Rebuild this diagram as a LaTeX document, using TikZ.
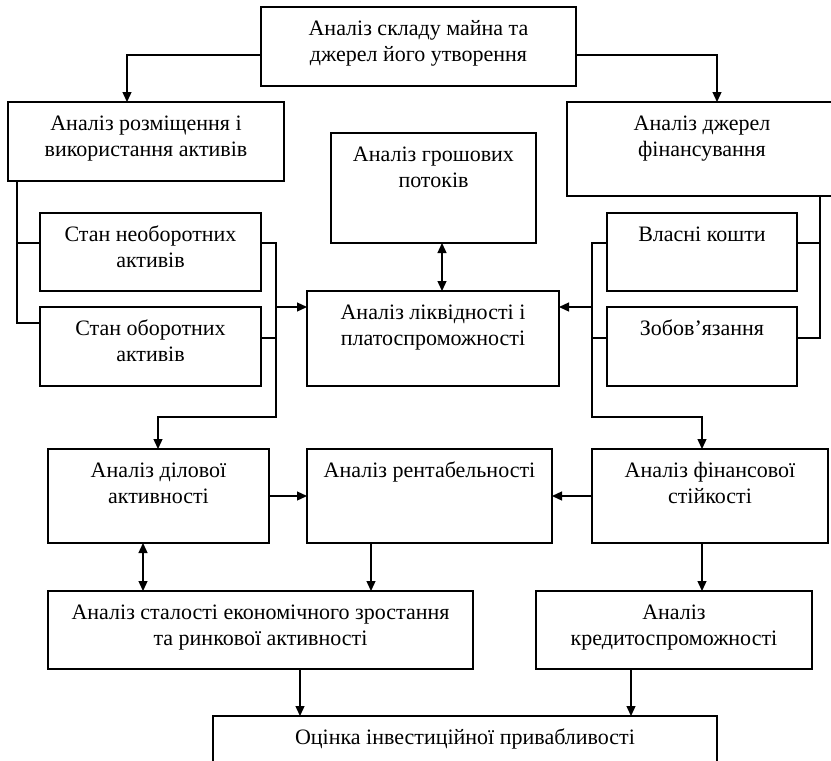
\documentclass[tikz,border=0pt]{standalone}
\usepackage{fontspec}
\setmainfont{Liberation Serif}
\usetikzlibrary{arrows.meta}

% a box of given width and height, text set from the top
\newcommand{\cell}[3]{\parbox[c][#2][t]{#1}{\centering\rule{0pt}{28pt}#3\par}}

\begin{document}
\begin{tikzpicture}[
  x=1pt, y=-1pt,
  line width=1.3pt,
  every node/.style={font=\fontsize{22}{26.5}\selectfont},
  blk/.style={draw, inner sep=0pt, outer sep=0pt, anchor=north west},
  arr/.style={-{Triangle[length=10pt,width=9pt]}},
  darr/.style={{Triangle[length=10pt,width=9pt]}-{Triangle[length=10pt,width=9pt]}}
]
\useasboundingbox (0,0) rectangle (831,761);
\clip (0,0) rectangle (831,761);

% boxes
\node[blk] (top)  at (261,7)   {\cell{315pt}{79pt}{Аналіз складу майна та\\джерел його утворення}};
\node[blk] (rozm) at (8,102)   {\cell{276pt}{79pt}{Аналіз розміщення і\\використання активів}};
\node[blk] (dzh)  at (567,102) {\cell{270pt}{94pt}{Аналіз джерел\\фінансування}};
\node[blk] (gr)   at (331,133) {\cell{205pt}{110pt}{Аналіз грошових\\потоків}};
\node[blk] (neob) at (40,213)  {\cell{221pt}{78pt}{Стан необоротних\\активів}};
\node[blk] (ob)   at (40,307)  {\cell{221pt}{79pt}{Стан оборотних\\активів}};
\node[blk] (liq)  at (307,291) {\cell{252pt}{95pt}{Аналіз ліквідності і\\платоспроможності}};
\node[blk] (vlas) at (607,213) {\cell{190pt}{78pt}{Власні кошти}};
\node[blk] (zob)  at (607,307) {\cell{190pt}{79pt}{Зобов’язання}};
\node[blk] (dil)  at (48,449)  {\cell{221pt}{94pt}{Аналіз ділової\\активності}};
\node[blk] (rent) at (307,449) {\cell{245pt}{94pt}{Аналіз рентабельності}};
\node[blk] (fin)  at (592,449) {\cell{236pt}{94pt}{Аналіз фінансової\\стійкості}};
\node[blk] (stal) at (48,591)  {\cell{425pt}{78pt}{Аналіз сталості економічного зростання\\та ринкової активності}};
\node[blk] (kred) at (536,591) {\cell{276pt}{78pt}{Аналіз\\кредитоспроможності}};
\node[blk] (ots)  at (213,716) {\cell{504pt}{64pt}{Оцінка інвестиційної привабливості}};

% junction points
\coordinate (jTL) at (127,55);
\coordinate (jTR) at (717,55);
\coordinate (a1) at (17,243);
\coordinate (a2) at (17,323);
\coordinate (b1) at (276,243);
\coordinate (b2) at (276,338);
\coordinate (b5) at (276,307);
\coordinate (b3) at (276,417);
\coordinate (b4) at (158,417);
\coordinate (c1) at (592,243);
\coordinate (c2) at (592,338);
\coordinate (c5) at (592,307);
\coordinate (c3) at (592,417);
\coordinate (c4) at (702,417);
\coordinate (d1) at (820,243);
\coordinate (d2) at (820,338);
\coordinate (e)  at (442,0);
\coordinate (f)  at (0,496);
\coordinate (g1) at (143,0);
\coordinate (g2) at (371,0);
\coordinate (g3) at (702,0);
\coordinate (g4) at (300,0);
\coordinate (g5) at (631,0);

% top split
\draw[arr] (jTL -| top.west) -| (jTL |- rozm.north);
\draw[arr] (jTR -| top.east) -| (jTR |- dzh.north);

% left group
\draw (a1 |- rozm.south) -- (a2) -- (a2 -| ob.west);
\draw (a1) -- (a1 -| neob.west);
\draw[arr] (b1 -| neob.east) -- (b1) -- (b3) -- (b4) -- (b4 |- dil.north);
\draw (b2 -| ob.east) -- (b2);
\draw[arr] (b5) -- (b5 -| liq.west);

% right group
\draw (d1 |- dzh.south) -- (d2) -- (d2 -| zob.east);
\draw (d1) -- (d1 -| vlas.east);
\draw[arr] (c1 -| vlas.west) -- (c1) -- (c3) -- (c4) -- (c4 |- fin.north);
\draw (c2 -| zob.west) -- (c2);
\draw[arr] (c5) -- (c5 -| liq.east);

% cash flows and liquidity
\draw[darr] (e |- gr.south) -- (e |- liq.north);

% lower rows
\draw[arr] (f -| dil.east) -- (f -| rent.west);
\draw[arr] (f -| fin.west) -- (f -| rent.east);
\draw[darr] (g1 |- dil.south) -- (g1 |- stal.north);
\draw[arr] (g2 |- rent.south) -- (g2 |- stal.north);
\draw[arr] (g3 |- fin.south) -- (g3 |- kred.north);
\draw[arr] (g4 |- stal.south) -- (g4 |- ots.north);
\draw[arr] (g5 |- kred.south) -- (g5 |- ots.north);
\end{tikzpicture}
\end{document}
